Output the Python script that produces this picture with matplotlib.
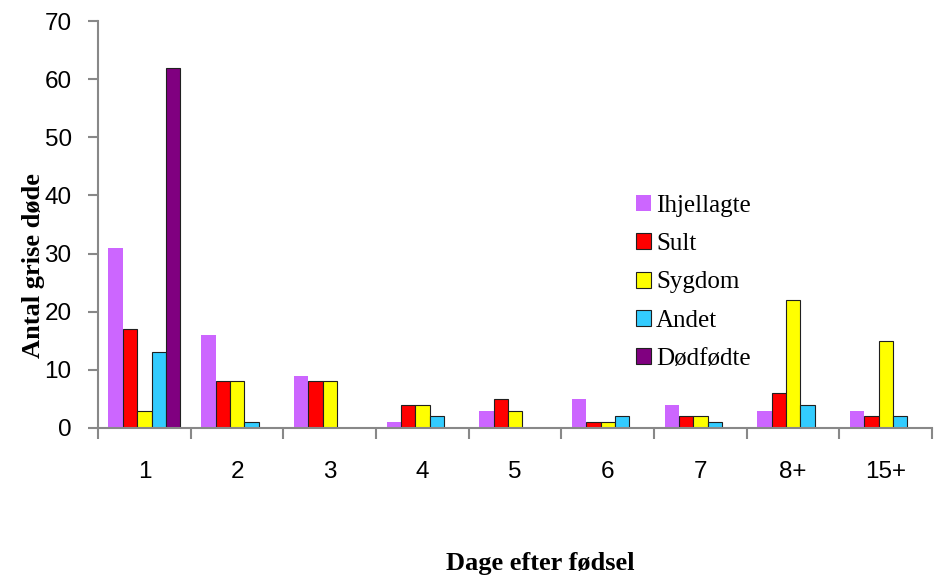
import numpy as np
import matplotlib.pyplot as plt

days = ["1", "2", "3", "4", "5", "6", "7", "8+", "15+"]
ihjellagte = [31, 16, 9, 1, 3, 5, 4, 3, 3]
sult = [17, 8, 8, 4, 5, 1, 2, 6, 2]
sygdom = [3, 8, 8, 4, 3, 1, 2, 22, 15]
andet = [13, 1, 0, 2, 0, 2, 1, 4, 2]
dodfodte = [62, 0, 0, 0, 0, 0, 0, 0, 0]

series = [("Ihjellagte", ihjellagte, "#CC66FF", "none"),
          ("Sult", sult, "#FF0000", "#202020"),
          ("Sygdom", sygdom, "#FFFF00", "#202020"),
          ("Andet", andet, "#33CCFF", "#202020"),
          ("Dødfødte", dodfodte, "#800080", "#202020")]

fig = plt.figure(figsize=(9.34, 5.76), dpi=100)
ax = fig.add_axes([0.105, 0.257, 0.893, 0.7065])

x = np.arange(len(days))
w = 0.155
for i, (name, vals, col, ec) in enumerate(series):
    ax.bar(x + (i - 2) * w, vals, w, color=col, edgecolor=ec, linewidth=0.8, label=name)

ax.set_xlim(-0.5, 8.5)
ax.set_ylim(0, 70)
ax.set_yticks(range(0, 71, 10))
ax.set_xticks(x)
ax.set_xticklabels(days, fontsize=17.5, family="Liberation Sans")
ax.set_xticks(np.arange(-0.5, 9, 1), minor=True)
ax.tick_params(axis="x", which="major", length=0, pad=24)
ax.tick_params(axis="x", which="minor", length=8, width=1.5, color="#888888")
ax.tick_params(axis="y", length=7, width=1.5, color="#888888", pad=12)
for lab in ax.get_yticklabels():
    lab.set_fontsize(17.5)
    lab.set_family("Liberation Sans")

for s in ["top", "right"]:
    ax.spines[s].set_visible(False)
for s in ["left", "bottom"]:
    ax.spines[s].set_color("#888888")
    ax.spines[s].set_linewidth(1.5)

ax.set_ylabel("Antal grise døde", fontsize=19, fontweight="bold", family="Liberation Serif")
ax.yaxis.set_label_coords(-0.064, 0.40)
fig.text(0.578, 0.022, "Dage efter fødsel", fontsize=19, fontweight="bold",
         family="Liberation Serif", ha="center", va="center")

ax.legend(loc="upper left", bbox_to_anchor=(0.618, 0.628), frameon=False,
          prop={"family": "Liberation Serif", "size": 18},
          handlelength=0.6, handleheight=0.6, handletextpad=0.2, labelspacing=0.65)

plt.savefig("out.png")
